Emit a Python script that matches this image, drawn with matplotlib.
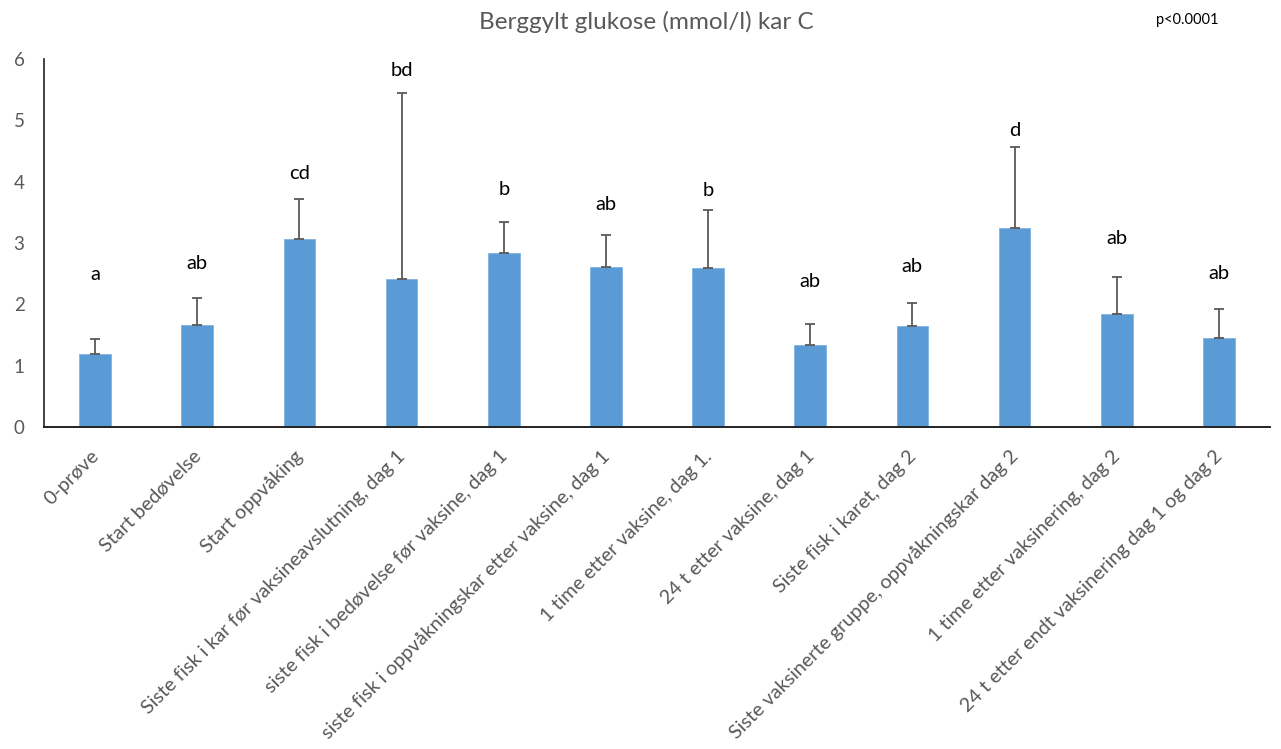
import matplotlib
matplotlib.use("Agg")
import matplotlib.pyplot as plt
import matplotlib.transforms as mtransforms
import numpy as np

categories = [
    "0-prøve",
    "Start bedøvelse",
    "Start oppvåking",
    "Siste fisk i kar før vaksineavslutning, dag 1",
    "siste fisk i bedøvelse før vaksine, dag 1",
    "siste fisk i oppvåkningskar etter vaksine, dag 1",
    "1 time etter vaksine, dag 1.",
    "24 t etter vaksine, dag 1",
    "Siste fisk i karet, dag 2",
    "Siste vaksinerte gruppe, oppvåkningskar dag 2",
    "1 time etter vaksinering, dag 2",
    "24 t etter endt vaksinering dag 1 og dag 2",
]
means = [1.19, 1.66, 3.07, 2.42, 2.84, 2.61, 2.59, 1.34, 1.65, 3.24, 1.84, 1.45]
err_upper = [0.24, 0.44, 0.65, 3.03, 0.50, 0.52, 0.95, 0.34, 0.37, 1.33, 0.61, 0.47]
letters = ["a", "ab", "cd", "bd", "b", "ab", "b", "ab", "ab", "d", "ab", "ab"]
letter_y = [2.48, 2.66, 4.14, 5.82, 3.88, 3.62, 3.86, 2.38, 2.61, 4.83, 3.07, 2.51]

plt.rcParams['font.family'] = ['Lato', 'DejaVu Sans']

fig = plt.figure(figsize=(12.81, 7.49), dpi=100)
ax = fig.add_axes([44/1281, 1 - 427/749, (1270-44)/1281, (427-59)/749])

x = np.arange(len(categories))
ax.bar(x, means, width=0.31, color="#5B9BD5", edgecolor="#7FB2E0", linewidth=0.6, zorder=2)
ax.errorbar(x, means, yerr=[np.zeros(len(means)), err_upper], fmt="none",
            ecolor="#595959", elinewidth=1.3, capsize=3.5, capthick=1.3, zorder=3)

for xi, lab, ly in zip(x, letters, letter_y):
    ax.text(xi, ly, lab, ha="center", va="center", fontsize=14.5, color="black")

ax.set_xlim(-0.5, len(categories) - 0.5)
ax.set_ylim(0, 6)
ax.set_yticks(range(0, 7))
ax.tick_params(axis="y", length=0, labelsize=13.5, labelcolor="#595959", pad=14)
ax.set_xticks(x)
ax.set_xticklabels(categories, rotation=45, ha="right", va="center", rotation_mode="anchor")
ax.tick_params(axis="x", length=0, labelsize=14.2, labelcolor="#595959", pad=19)
shift = mtransforms.ScaledTranslation(1/100, 0, fig.dpi_scale_trans)
for t in ax.get_xticklabels():
    t.set_transform(t.get_transform() + shift)

for s in ["top", "right"]:
    ax.spines[s].set_visible(False)
ax.spines["left"].set_color("#222222")
ax.spines["bottom"].set_color("#222222")
ax.spines["left"].set_linewidth(1.2)
ax.spines["bottom"].set_linewidth(1.4)

fig.text(646/1281, 1 - 22/749, "Berggylt glukose (mmol/l) kar C", ha="center", va="center",
         fontsize=17.5, color="#595959")
fig.text(1187/1281, 1 - 20/749, "p<0.0001", ha="center", va="center", fontsize=10.5, color="black")

fig.savefig("out.png", dpi=100)
